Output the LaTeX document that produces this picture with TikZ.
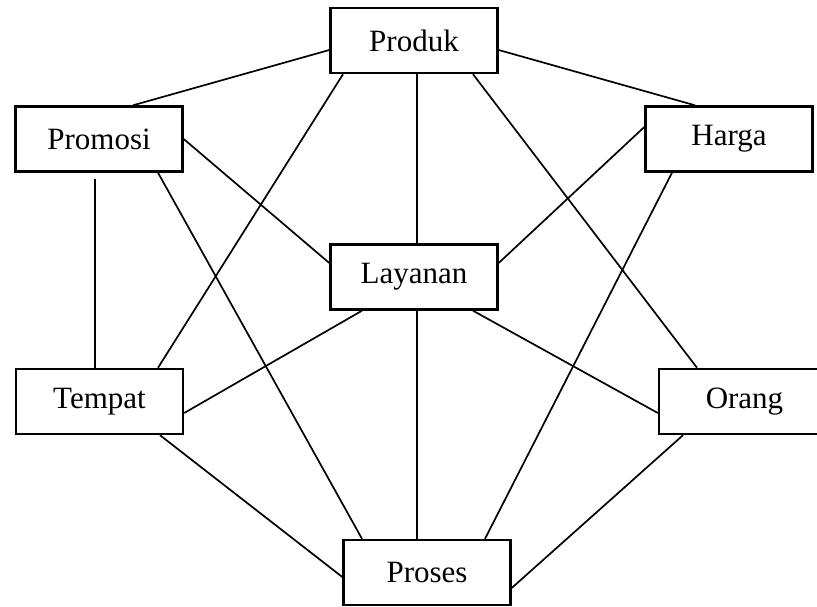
\documentclass[tikz,border=0pt]{standalone}
\usepackage{fontspec}
\setmainfont{Liberation Serif}
\usetikzlibrary{positioning}
\begin{document}
\begin{tikzpicture}[x=1pt,y=1pt,line width=1.7pt,on grid,
		nodes={draw, line width=2.4pt, inner sep=0pt, minimum width=167pt, minimum height=65pt, font=\fontsize{31}{37}\selectfont}]
			\useasboundingbox (0,0) rectangle (817,606);
			\node (n0) at (414,565.5) {Produk};
			\node (n1) [below left=98.5pt and 315pt of n0]{Promosi};
			\node (n2) [below right=98.5pt and 315pt of n0]{Harga};
			\node (n3) [below=236.5pt of n0]{Layanan};
			\node (n4) [below right=262.5pt and 0.5pt of n1]{Tempat};
			\node (n5) [below right=262.5pt and 15.5pt of n2, minimum width=171pt]{Orang};
			\node (n6) [below right=295.5pt and 13pt of n3]{Proses};
			\draw ([yshift=-9.5pt]n0.west) -- ([xshift=34pt]n1.north);
			\draw ([yshift=-9.5pt]n0.east) -- ([xshift=-34pt]n2.north);
			\draw ([xshift=-71pt]n0.south) -- ([xshift=58.5pt]n4.north);
			\draw ([xshift=3pt]n0.south) -- ([xshift=3pt]n3.north);
			\draw ([xshift=59pt]n0.south) -- ([xshift=-47.5pt]n5.north);
			\draw (n1.east) -- ([yshift=14pt]n3.west);
			\draw ([xshift=59pt]n1.south) -- ([xshift=-65pt]n6.north);
			\draw [shorten <=6pt] ([xshift=-4pt]n1.south) -- ([xshift=-4.5pt]n4.north);
			\draw ([yshift=12pt]n2.west) -- ([yshift=14pt]n3.east);
			\draw ([xshift=-57pt]n2.south) -- ([xshift=58pt]n6.north);
			\draw ([xshift=-52pt]n3.south) -- ([yshift=-11.5pt]n4.east);
			\draw ([xshift=3pt]n3.south) -- ([xshift=-10pt]n6.north);
			\draw ([xshift=59pt]n3.south) -- ([yshift=-11.5pt]n5.west);
			\draw ([xshift=60.5pt]n4.south) -- ([yshift=-4.5pt]n6.west);
			\draw ([xshift=-61.5pt]n5.south) -- ([yshift=-15.5pt]n6.east);
		\end{tikzpicture}
\end{document}
